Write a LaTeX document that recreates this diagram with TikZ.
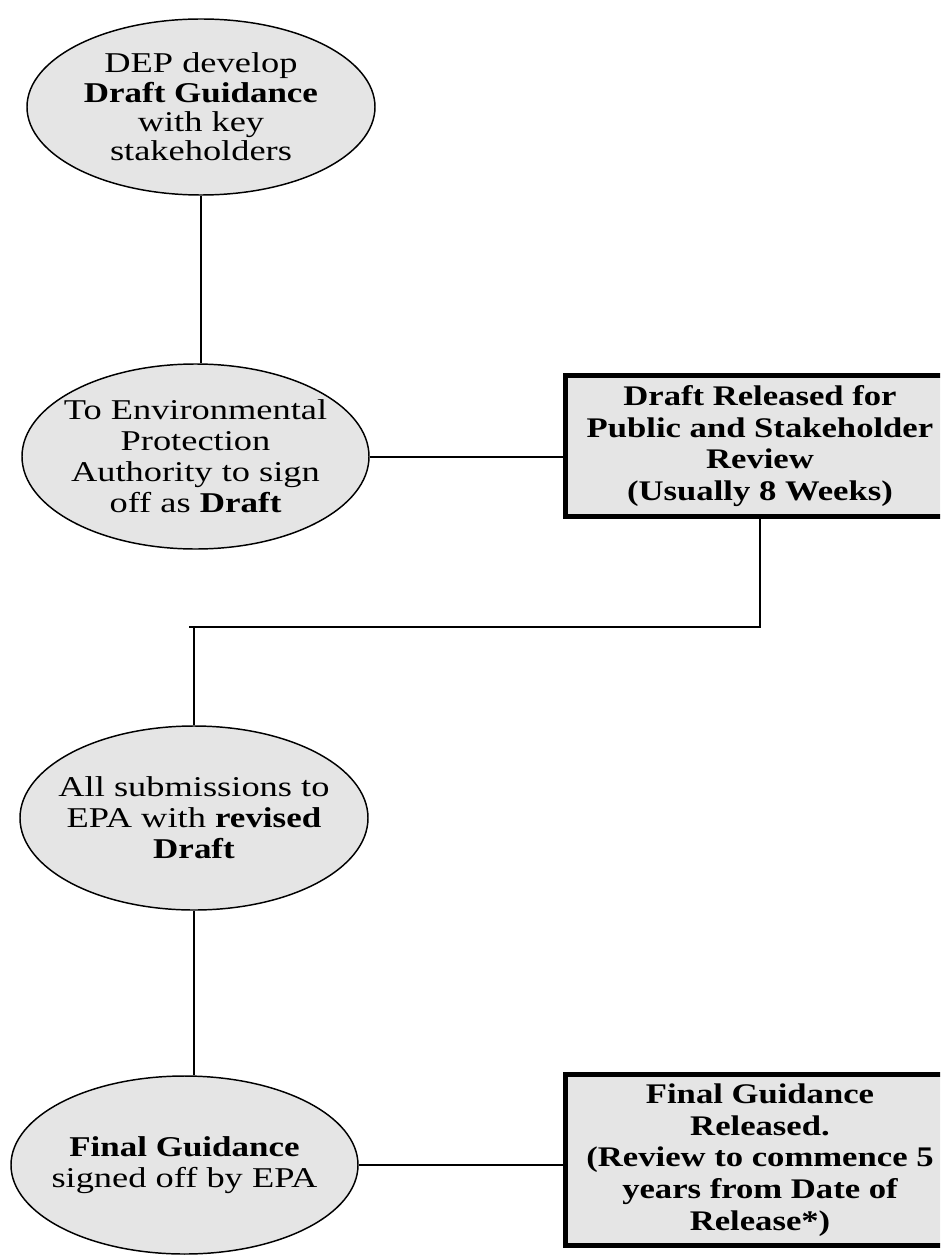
\documentclass[tikz,border=0pt]{standalone}
\usepackage{fontspec}
\setmainfont{Liberation Serif}[FakeStretch=1.27, BoldFeatures={FakeStretch=1.22}]
\usetikzlibrary{shapes.geometric}
\definecolor{fillgray}{HTML}{E5E5E5}
\tikzset{
  oval/.style={ellipse, draw=black, line width=1.1pt, fill=fillgray, inner sep=-70pt, align=center,
    font=\fontsize{21.5}{23.2}\selectfont},
  boxnode/.style={rectangle, draw=black, line width=3.75pt, fill=fillgray, inner sep=0pt, align=center,
    minimum width=291.75pt, font=\bfseries\fontsize{21.3}{23.8}\selectfont},
  conn/.style={draw=black, line width=1.5pt}
}
\begin{document}
\begin{tikzpicture}[x=0.75pt,y=-0.75pt]
\clip (0,0) rectangle (940,1255);
\fill[white] (0,0) rectangle (940,1255);
\node[oval, minimum width=261pt, minimum height=132pt, font=\fontsize{21.5}{22}\selectfont] (e1) at (201,107)
  {DEP develop\\\textbf{Draft Guidance}\\with key\\stakeholders};
\node[oval, minimum width=260.25pt, minimum height=138.75pt] (e2) at (195.5,456.5)
  {To Environmental\\Protection\\Authority to sign\\off as \textbf{Draft}};
\node[boxnode, minimum height=105.75pt] (b1) at (760,446)
  {Draft Released for\\Public and Stakeholder\\Review\\(Usually 8 Weeks)};
\node[oval, minimum width=261pt, minimum height=138pt] (e3) at (194,818)
  {All submissions to\\EPA with \textbf{revised}\\\textbf{Draft}};
\node[oval, minimum width=260.25pt, minimum height=133.5pt] (e4) at (184.5,1165)
  {\textbf{Final Guidance}\\signed off by EPA};
\node[boxnode, minimum height=128.25pt] (b2) at (760,1160)
  {Final Guidance\\Released.\\(Review to commence 5\\years from Date of\\Release*)};
\coordinate (turn) at (189,627);
\draw[conn] (e1.south) -- (e1.south |- e2.north);
\draw[conn] (e2.east) -- (e2.east -| b1.west);
\draw[conn] (b1.south) |- (turn);
\draw[conn] (turn -| e3.north) -- (e3.north);
\draw[conn] (e3.south) -- (e3.south |- e4.north);
\draw[conn] (e4.east) -- (e4.east -| b2.west);
\end{tikzpicture}
\end{document}
